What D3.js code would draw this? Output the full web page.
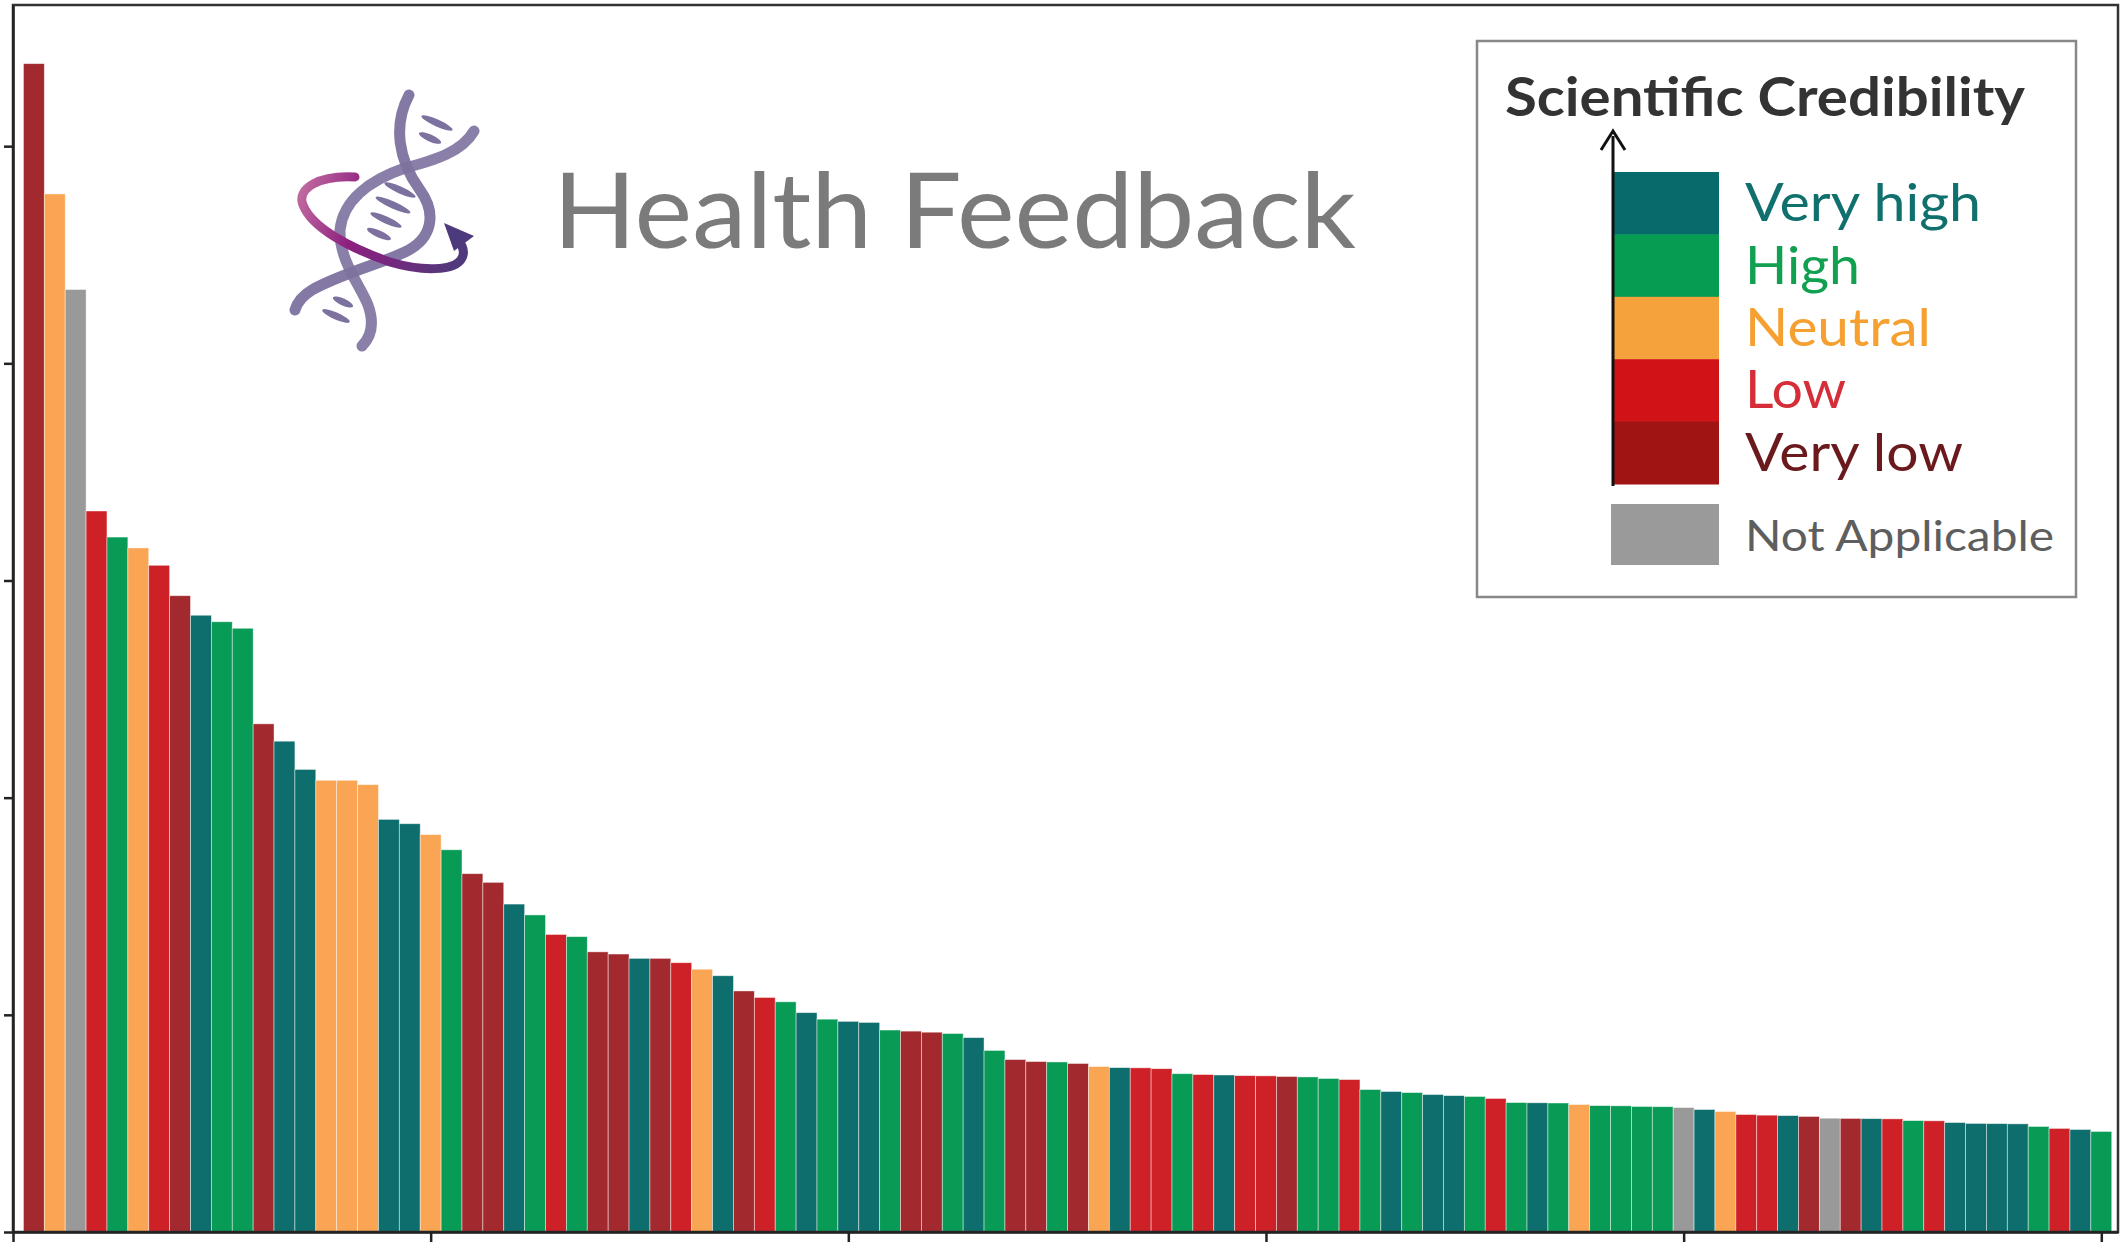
<!DOCTYPE html>
<html>
<head>
<meta charset="utf-8">
<script src="https://cdn.jsdelivr.net/npm/d3@7"></script>
<style>
  body { margin: 0; background: #fff; }
  svg { display: block; }
</style>
</head>
<body>
<div id="chart"></div>
<script>
// bar heights, sorted descending (arbitrary units, one y tick = 100)
var values = [
  538, 478, 434, 332, 320, 315, 307, 293, 284, 281,
  278, 234, 226, 213, 208, 208, 206, 190, 188, 183,
  176, 165, 161, 151, 146, 137, 136, 129, 128, 126,
  126, 124, 121, 118, 111, 108, 106, 101, 98, 97,
  96.5, 93, 92.5, 92, 91.4, 89.5, 83.6, 79.4, 78.5, 78.3,
  77.6, 76.2, 75.7, 75.6, 75.2, 72.9, 72.5, 72.3, 72, 71.9,
  71.6, 71.4, 70.7, 70.2, 65.6, 64.7, 64.2, 63.3, 62.8, 62.4,
  61.5, 59.6, 59.5, 59.4, 58.7, 58.2, 58.1, 57.8, 57.7, 57.3,
  56.4, 55.5, 54.1, 53.8, 53.6, 53.2, 52.4, 52.3, 52.2, 52.1,
  51.3, 51.2, 50.4, 50, 49.9, 49.8, 48.6, 47.7, 47.2, 46.3
];

var credibility = [
  "vl", "n", "na", "l", "h", "n", "l", "vl", "vh", "h",
  "h", "vl", "vh", "vh", "n", "n", "n", "vh", "vh", "n",
  "h", "vl", "vl", "vh", "h", "l", "h", "vl", "vl", "vh",
  "vl", "l", "n", "vh", "vl", "l", "h", "vh", "h", "vh",
  "vh", "h", "vl", "vl", "h", "vh", "h", "vl", "vl", "h",
  "vl", "n", "vh", "l", "l", "h", "l", "vh", "l", "l",
  "vl", "h", "h", "l", "h", "vh", "h", "vh", "vh", "h",
  "l", "h", "vh", "h", "n", "h", "h", "h", "h", "na",
  "vh", "n", "l", "l", "vh", "vl", "na", "vl", "vh", "l",
  "h", "l", "vh", "vh", "vh", "vh", "h", "l", "vh", "h"
];

var levels = ["vh", "h", "n", "l", "vl"];
var levelNames = ["Very high", "High", "Neutral", "Low", "Very low"];
var barColors = { vh: "#0e6e6e", h: "#089b55", n: "#f9a553", l: "#cd2027", vl: "#a22a2f", na: "#999999" };
var legendColors = { vh: "#086b6b", h: "#069c52", n: "#f6a23c", l: "#d01317", vl: "#a11414", na: "#9a9a9a" };
var labelColors = { vh: "#10706e", h: "#10a050", n: "#f5a030", l: "#d52e38", vl: "#6a1a1c", na: "#5e5e5e" };

var yTicks = [0, 100, 200, 300, 400, 500];
var xTicks = [0, 20, 40, 60, 80, 100];

var W = 2126, H = 1254;
var frame = { left: 13, top: 5, right: 2118, bottom: 1232 };

var svg = d3.select("#chart").append("svg")
  .attr("width", W)
  .attr("height", H);

svg.append("rect").attr("width", W).attr("height", H).attr("fill", "#fff");

var x = d3.scaleLinear().domain([0, 100.8]).range([frame.left, frame.right]);
var y = d3.scaleLinear().domain([0, 565]).range([frame.bottom, frame.top]);

var data = values.map(function(v, i) { return { pos: i + 1, value: v, cat: credibility[i] }; });

svg.append("g").selectAll("rect")
  .data(data)
  .enter()
  .append("rect")
  .attr("x", d => x(d.pos - 0.5))
  .attr("width", d => x(d.pos + 0.5) - x(d.pos - 0.5))
  .attr("y", d => y(d.value))
  .attr("height", d => y(0) - y(d.value))
  .attr("fill", d => barColors[d.cat])
  .attr("stroke", "#ffffff")
  .attr("stroke-opacity", 0.55)
  .attr("stroke-width", 0.8);

// frame (top + right spines)
svg.append("rect")
  .attr("x", frame.left).attr("y", frame.top)
  .attr("width", frame.right - frame.left)
  .attr("height", frame.bottom - frame.top)
  .attr("fill", "none")
  .attr("stroke", "#333")
  .attr("stroke-width", 2.5);

var yAxis = svg.append("g")
  .attr("transform", "translate(" + frame.left + ",0)")
  .call(d3.axisLeft(y).tickValues(yTicks).tickFormat("").tickSize(9).tickSizeOuter(0));

var xAxis = svg.append("g")
  .attr("transform", "translate(0," + frame.bottom + ")")
  .call(d3.axisBottom(x).tickValues(xTicks).tickFormat("").tickSize(10).tickSizeOuter(0));

[yAxis, xAxis].forEach(function(a) {
  a.selectAll("path, line").attr("stroke", "#222").attr("stroke-width", 2.5);
});

// ---- logo ----
var logo = svg.append("g");
var defs = svg.append("defs");
var grad = defs.append("linearGradient").attr("id", "ring")
  .attr("gradientUnits", "userSpaceOnUse")
  .attr("x1", 300).attr("y1", 190).attr("x2", 470).attr("y2", 250);
grad.append("stop").attr("offset", "0%").attr("stop-color", "#c06aa0");
grad.append("stop").attr("offset", "35%").attr("stop-color", "#8e1f7f");
grad.append("stop").attr("offset", "100%").attr("stop-color", "#4c3a7c");

var strand = "#7d719f";
logo.append("path")
  .attr("d", "M409,95 C393,125 398,160 420,190 C436,212 434,238 405,252 C380,264 340,274 312,290 C302,296 297,303 295,310")
  .attr("fill", "none").attr("stroke", strand).attr("stroke-width", 11)
  .attr("stroke-linecap", "round").attr("opacity", 0.95);
logo.append("path")
  .attr("d", "M474,131 C462,152 435,160 405,168 C370,180 343,200 340,230 C339,260 360,285 368,305 C374,322 372,336 362,346")
  .attr("fill", "none").attr("stroke", strand).attr("stroke-width", 11)
  .attr("stroke-linecap", "round").attr("opacity", 0.9);

var rungs = [[437, 123, 17], [430, 138, 12], [400, 190, 17], [393, 205, 19], [386, 220, 17], [379, 234, 13], [343, 302, 11], [336, 316, 15]];
logo.selectAll("ellipse.rung")
  .data(rungs)
  .enter()
  .append("ellipse")
  .attr("class", "rung")
  .attr("cx", d => d[0]).attr("cy", d => d[1])
  .attr("rx", d => d[2]).attr("ry", 3.5)
  .attr("transform", d => "rotate(24," + d[0] + "," + d[1] + ")")
  .attr("fill", strand);

logo.append("path")
  .attr("d", "M355,177 C320,175 296,188 303,205 C312,228 350,248 390,262 C420,271 455,272 462,258 C465,252 463,246 458,240")
  .attr("fill", "none").attr("stroke", "url(#ring)").attr("stroke-width", 9)
  .attr("stroke-linecap", "round");
logo.append("path")
  .attr("d", "M444,223 L474,236 L454,251 Z")
  .attr("fill", "#4c3a7c");

svg.append("text")
  .attr("x", 553).attr("y", 248)
  .attr("font-family", "Lato, 'Open Sans', sans-serif")
  .attr("font-size", 104)
  .attr("fill", "#7b7b7b")
  .attr("textLength", 803)
  .attr("lengthAdjust", "spacingAndGlyphs")
  .text("Health Feedback");

// ---- legend ----
var lg = svg.append("g");
lg.append("rect")
  .attr("x", 1477).attr("y", 41).attr("width", 599).attr("height", 556)
  .attr("fill", "#fff").attr("stroke", "#888").attr("stroke-width", 2.5);

lg.append("text")
  .attr("x", 1505).attr("y", 116)
  .attr("font-family", "Lato, 'Open Sans', sans-serif")
  .attr("font-weight", "bold")
  .attr("font-size", 54)
  .attr("fill", "#333")
  .attr("textLength", 520)
  .attr("lengthAdjust", "spacingAndGlyphs")
  .text("Scientific Credibility");

var blockY = d3.scaleBand().domain(levels).range([172, 484]);
var labelWidths = { vh: 236, h: 115, n: 186, l: 101, vl: 218 };

lg.selectAll("rect.block")
  .data(levels)
  .enter()
  .append("rect")
  .attr("class", "block")
  .attr("x", 1612).attr("width", 107)
  .attr("y", d => blockY(d))
  .attr("height", blockY.bandwidth() + 0.5)
  .attr("fill", d => legendColors[d]);

lg.selectAll("text.lvl")
  .data(levels)
  .enter()
  .append("text")
  .attr("class", "lvl")
  .attr("x", 1745)
  .attr("y", d => blockY(d) + blockY.bandwidth() / 2 + 18)
  .attr("font-family", "Lato, 'Open Sans', sans-serif")
  .attr("font-size", 52)
  .attr("fill", d => labelColors[d])
  .attr("textLength", d => labelWidths[d])
  .attr("lengthAdjust", "spacingAndGlyphs")
  .text((d, i) => levelNames[i]);

// arrow along the scale
lg.append("line")
  .attr("x1", 1613).attr("x2", 1613)
  .attr("y1", 486).attr("y2", 136)
  .attr("stroke", "#111").attr("stroke-width", 3);
lg.append("path")
  .attr("d", "M1601,150 L1613,131 L1625,150")
  .attr("fill", "none").attr("stroke", "#111").attr("stroke-width", 3)
  .attr("stroke-linejoin", "miter");

lg.append("rect")
  .attr("x", 1611).attr("y", 504).attr("width", 108).attr("height", 61)
  .attr("fill", legendColors.na);
lg.append("text")
  .attr("x", 1745).attr("y", 551)
  .attr("font-family", "Lato, 'Open Sans', sans-serif")
  .attr("font-size", 42)
  .attr("fill", labelColors.na)
  .attr("textLength", 309)
  .attr("lengthAdjust", "spacingAndGlyphs")
  .text("Not Applicable");
</script>
</body>
</html>
